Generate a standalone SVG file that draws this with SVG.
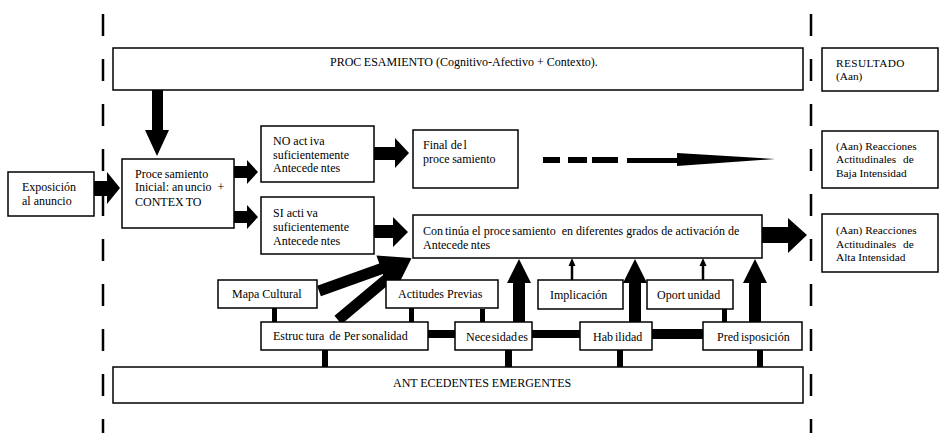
<svg xmlns="http://www.w3.org/2000/svg" width="939" height="433" viewBox="0 0 939 433">
<style>
.b{fill:#fff;stroke:#000;stroke-width:1.5}
.t{font-family:'Liberation Serif','Times New Roman',Times,serif;font-size:12px;fill:#000}
.r{font-size:11.3px}
.d{stroke:#000;stroke-width:2.5;stroke-dasharray:22 23;fill:none}
.a{fill:#000;stroke:none}
</style>
<rect width="939" height="433" fill="#fff"/>
<g id="guides">
<line class="d" x1="103" y1="14" x2="103" y2="433"/>
<line class="d" x1="811" y1="14" x2="811" y2="433"/>
</g>
<g id="connectors">
<polygon class="a" points="152,90 163,90 163,130 169,130 157,156 145,130 152,130"/>
<polygon class="a" points="94,181 107,181 107,172 120,188 107,204 107,196 94,196"/>
<polygon class="a" points="234,166 247,166 247,160 258,172 247,184 247,178 234,178"/>
<polygon class="a" points="234,211 247,211 247,205 258,217 247,229 247,223 234,223"/>
<polygon class="a" points="374,147 395,147 395,138 409,153 395,168 395,160 374,160"/>
<polygon class="a" points="373,225 393,225 393,217 408,232 393,247 393,238 373,238"/>
<rect class="a" x="543" y="157" width="17" height="6"/>
<rect class="a" x="568" y="157" width="19" height="6"/>
<rect class="a" x="592" y="157" width="26" height="6"/>
<polygon class="a" points="627,158 677,158 677,153 775,159 677,166 677,163 627,163"/>
<polygon class="a" points="762,227 788,227 788,218 807,235 788,253 788,243 762,243"/>
<polygon class="a" points="0,-5.5 66,-5.5 66,-14 98,0 66,14 66,5.5 0,5.5" transform="translate(319,291) rotate(-19.7)"/>
<polygon class="a" points="0,-5.5 64,-5.5 64,-14 96,0 64,14 64,5.5 0,5.5" transform="translate(338,320) rotate(-40)"/>
<polygon class="a" points="513,322 525,322 525,283 531,283 519,259 507,283 513,283"/>
<polygon class="a" points="629,322 641,322 641,283 647,283 635,259 623,283 629,283"/>
<polygon class="a" points="749,322 761,322 761,283 767,283 755,259 743,283 749,283"/>
<line x1="572" y1="280" x2="572" y2="265" stroke="#000" stroke-width="2.5"/>
<polygon class="a" points="568.5,266 575.5,266 572,258"/>
<line x1="703" y1="280" x2="703" y2="265" stroke="#000" stroke-width="2.5"/>
<polygon class="a" points="699.5,266 706.5,266 703,258"/>
<rect class="a" x="272" y="308" width="5" height="14"/>
<rect class="a" x="409" y="308" width="5" height="14"/>
<rect class="a" x="480" y="309" width="5" height="13"/>
<rect class="a" x="722" y="309" width="5" height="13"/>
<rect class="a" x="322" y="350" width="6" height="17"/>
<rect class="a" x="505" y="350" width="7" height="17"/>
<rect class="a" x="617" y="350" width="6" height="17"/>
<rect class="a" x="757" y="350" width="6" height="17"/>
<rect class="a" x="428" y="330" width="27" height="8"/>
<rect class="a" x="532" y="330" width="48" height="8"/>
<rect class="a" x="652" y="329" width="51" height="10"/>
</g>
<g id="procesamiento">
<rect class="b" x="113" y="48" width="690" height="42"/>
<text class="t" x="330" y="66">PROC<tspan dx="2.5">ESAMIENTO (Cognitivo-Afectivo + Contexto).</tspan></text>
</g>
<g id="resultado">
<rect class="b" x="822" y="48" width="116" height="43"/>
<text class="t r" x="836" y="67" letter-spacing="0.4">RESULTADO</text>
<text class="t r" x="836" y="80">(Aan)</text>
</g>
<g id="exposicion">
<rect class="b" x="8" y="172" width="86" height="44"/>
<text class="t" x="22" y="191">Exposición</text>
<text class="t" x="22" y="205">al anuncio</text>
</g>
<g id="proc-inicial">
<rect class="b" x="122" y="159" width="112" height="69"/>
<text class="t" x="135" y="178">Proce<tspan dx="2.5">samiento</tspan></text>
<text class="t" x="135" y="191">Inicial: an<tspan dx="1.5">uncio</tspan><tspan dx="3"> +</tspan></text>
<text class="t" x="135" y="206">CONTEX<tspan dx="2">TO</tspan></text>
</g>
<g id="no-activa">
<rect class="b" x="261" y="126" width="113" height="56"/>
<text class="t" x="273" y="145">NO act<tspan dx="2.5">iva</tspan></text>
<text class="t" x="273" y="159">suficientemente</text>
<text class="t" x="273" y="172">Antecede<tspan dx="2.5">ntes</tspan></text>
</g>
<g id="si-activa">
<rect class="b" x="261" y="197" width="113" height="57"/>
<text class="t" x="273" y="217">SI acti<tspan dx="2.5">va</tspan></text>
<text class="t" x="273" y="231">suficientemente</text>
<text class="t" x="273" y="245">Antecede<tspan dx="2.5">ntes</tspan></text>
</g>
<g id="final">
<rect class="b" x="413" y="130" width="105" height="58"/>
<text class="t" x="423" y="149">Final de<tspan dx="1.5">l</tspan></text>
<text class="t" x="423" y="163">proce<tspan dx="2.5">samiento</tspan></text>
</g>
<g id="continua">
<rect class="b" x="413" y="215" width="349" height="43"/>
<text class="t" x="423" y="235">Con<tspan dx="2">tinúa el proce</tspan><tspan dx="2">samiento</tspan><tspan dx="3"> en diferentes grados de activación de</tspan></text>
<text class="t" x="423" y="249">Antecede<tspan dx="2.5">ntes</tspan></text>
</g>
<g id="baja">
<rect class="b" x="822" y="131" width="116" height="57"/>
<text class="t r" x="836" y="150">(Aan) Reacciones</text>
<text class="t r" x="836" y="163">Actitudinales<tspan dx="4"> de</tspan></text>
<text class="t r" x="836" y="177">Baja Intensidad</text>
</g>
<g id="alta">
<rect class="b" x="822" y="214" width="116" height="58"/>
<text class="t r" x="836" y="234">(Aan) Reacciones</text>
<text class="t r" x="836" y="248">Actitudinales<tspan dx="4"> de</tspan></text>
<text class="t r" x="836" y="261">Alta Intensidad</text>
</g>
<g id="mapa">
<rect class="b" x="218" y="280" width="99" height="28"/>
<text class="t" x="232" y="298">Mapa Cultural</text>
</g>
<g id="actitudes">
<rect class="b" x="386" y="280" width="112" height="28"/>
<text class="t" x="398" y="298">Actitudes Previas</text>
</g>
<g id="implicacion">
<rect class="b" x="538" y="280" width="85" height="29"/>
<text class="t" x="550" y="299">Implicación</text>
</g>
<g id="oportunidad">
<rect class="b" x="647" y="280" width="86" height="29"/>
<text class="t" x="657" y="299">Oport<tspan dx="2.5">unidad</tspan></text>
</g>
<g id="estructura">
<rect class="b" x="261" y="322" width="167" height="28"/>
<text class="t" x="273" y="340">Estruc<tspan dx="2">tura</tspan><tspan dx="2"> de Per</tspan><tspan dx="2">sonalidad</tspan></text>
</g>
<g id="necesidades">
<rect class="b" x="455" y="322" width="77" height="28"/>
<text class="t" x="466" y="341">Nece<tspan dx="1">sidad</tspan><tspan dx="1">es</tspan></text>
</g>
<g id="habilidad">
<rect class="b" x="580" y="322" width="72" height="28"/>
<text class="t" x="593" y="341">Hab<tspan dx="2">ilidad</tspan></text>
</g>
<g id="predisposicion">
<rect class="b" x="703" y="322" width="99" height="28"/>
<text class="t" x="717" y="341">Pred<tspan dx="2">isposición</tspan></text>
</g>
<g id="antecedentes">
<rect class="b" x="113" y="367" width="690" height="36"/>
<text class="t" x="393" y="387">ANT<tspan dx="2.5">ECEDENTES EMERGENTES</tspan></text>
</g>
</svg>
